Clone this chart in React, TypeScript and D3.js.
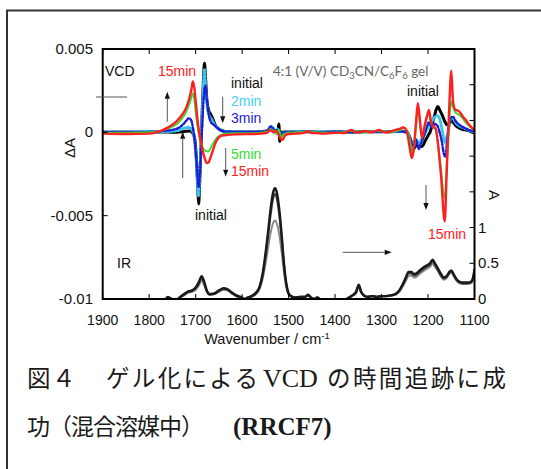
import React from 'react';
import * as d3 from 'd3';

type Pt = [number, number];

// wavenumber axis
const X_TICKS = [1900, 1800, 1700, 1600, 1500, 1400, 1300, 1200, 1100];

// left axis (ΔA, values in units of 1e-3)
const VCD_TICKS = [5, 0, -5, -10];
const VCD_TICK_LABELS = ['0.005', '0', '-0.005', '-0.01'];

// right axis (A)
const IR_TICKS = [0, 0.5, 1, 1.5, 2, 2.5, 3, 3.5];
const IR_TICK_LABELS = ['0', '0.5', '1', '', '', '', '', ''];

// VCD spectra, [wavenumber, ΔA x 1e3]
const vcdInitial: Pt[] = [
  [1900, 0], [1850, 0], [1800, 0.02], [1760, 0.02], [1740, 0], [1725, 0.05], [1712, 0.08],
  [1705, -0.1], [1701, -0.6], [1698, -1.8], [1695, -3.6], [1693.5, -4.3], [1692, -3.5],
  [1689, -1.2], [1686, 1.2], [1683, 3.3], [1681, 4.15], [1679, 3.4], [1676, 2.0], [1672, 1.3],
  [1668, 1.1], [1663, 0.8], [1658, 0.45], [1650, 0.2], [1644, 0.12], [1635, 0.05], [1620, 0.02],
  [1600, 0.02], [1580, 0.02], [1560, 0.05], [1545, 0.08], [1538, 0.25], [1533, 0.15],
  [1527, 0.05], [1523, 0.1], [1521, 0.5], [1519, -0.55], [1516, 0.0], [1505, 0.02], [1490, 0.02],
  [1460, 0.03], [1430, 0.0], [1400, 0.03], [1370, 0.0], [1340, 0.03], [1300, 0.03], [1270, 0.05],
  [1255, 0.05], [1245, 0.0], [1238, -0.4], [1231, -1.0], [1225, -0.75], [1218, -0.8],
  [1213, -0.85], [1206, -0.5], [1200, -0.2], [1195, 0.05], [1190, 0.6], [1186, 1.0], [1182, 1.4],
  [1179, 1.55], [1175, 1.35], [1169, 1.0], [1163, 0.6], [1159, 0.45], [1154, 0.55], [1150, 0.75],
  [1146, 0.6], [1138, 0.35], [1128, 0.2], [1116, 0.12], [1108, 0.05], [1100, -0.05],
];

const vcd2min: Pt[] = [
  [1900, 0.02], [1800, 0.03], [1760, 0.05], [1740, 0.1], [1725, 0.25], [1715, 0.3], [1708, 0.15],
  [1703, -0.3], [1699, -1.5], [1696, -3.0], [1694, -3.8], [1692, -3.2], [1689, -1.0], [1686, 1.0],
  [1683, 3.0], [1681, 3.75], [1679, 3.0], [1676, 1.8], [1672, 1.1], [1666, 0.8], [1660, 0.5],
  [1652, 0.25], [1645, 0.12], [1635, 0.05], [1600, 0.02], [1560, 0.03], [1545, 0.1], [1539, 0.35],
  [1534, 0.3], [1529, 0.05], [1524, 0.2], [1519, -0.2], [1510, 0.0], [1480, 0.03], [1440, 0.02],
  [1400, 0.04], [1360, 0.02], [1320, 0.04], [1280, 0.03], [1255, 0.05], [1245, 0.0],
  [1238, -0.45], [1232, -0.9], [1226, -0.4], [1220, -0.7], [1214, -0.4], [1207, -0.1], [1200, 0.3],
  [1193, 0.6], [1186, 0.9], [1180, 1.0], [1175, 0.8], [1170, 0.2], [1166, -0.4], [1163, -0.6],
  [1159, -0.2], [1155, 0.4], [1151, 0.8], [1147, 0.85], [1140, 0.55], [1130, 0.35], [1118, 0.2],
  [1108, 0.08], [1100, 0.0],
];

const vcd3min: Pt[] = [
  [1900, 0.02], [1800, 0.03], [1770, 0.08], [1750, 0.15], [1738, 0.25], [1728, 0.45], [1720, 0.7],
  [1715, 0.85], [1710, 0.75], [1706, 0.3], [1702, -0.5], [1698, -1.8], [1695, -3.0], [1693, -3.3],
  [1691, -2.5], [1688, -0.8], [1685, 1.0], [1682, 2.3], [1679, 2.8], [1676, 2.0], [1672, 1.1],
  [1667, 0.6], [1661, 0.45], [1655, 0.3], [1648, 0.15], [1638, 0.05], [1600, 0.02], [1560, 0.03],
  [1545, 0.12], [1539, 0.35], [1534, 0.25], [1529, 0.05], [1524, 0.15], [1519, -0.25], [1510, 0.0],
  [1470, 0.03], [1430, 0.02], [1390, 0.04], [1350, 0.02], [1310, 0.04], [1270, 0.04], [1255, 0.05],
  [1245, 0.0], [1238, -0.4], [1232, -0.8], [1226, -0.45], [1220, -1.0], [1215, -0.65],
  [1208, -0.15], [1203, 0.3], [1198, 0.6], [1192, 0.3], [1186, 0.5], [1180, 0.4], [1175, 0.0],
  [1170, -0.6], [1166, -1.3], [1163, -1.45], [1159, -0.6], [1155, 0.3], [1151, 0.85], [1147, 0.95],
  [1140, 0.65], [1130, 0.4], [1118, 0.22], [1108, 0.1], [1100, 0.05],
];

const vcd5min: Pt[] = [
  [1900, -0.02], [1850, -0.02], [1800, 0.0], [1780, 0.06], [1765, 0.18], [1752, 0.32], [1740, 0.5],
  [1730, 0.8], [1722, 1.15], [1715, 1.6], [1710, 2.0], [1706, 2.35], [1703, 2.0], [1699, 1.0],
  [1695, 0.2], [1690, -0.5], [1685, -0.9], [1680, -1.1], [1673, -1.15], [1667, -0.9], [1660, -0.55],
  [1653, -0.3], [1645, -0.15], [1635, -0.08], [1620, -0.05], [1600, -0.05], [1560, -0.02],
  [1545, 0.05], [1539, 0.2], [1533, 0.1], [1527, -0.1], [1521, 0.15], [1516, -0.3], [1510, -0.1],
  [1500, -0.02], [1460, 0.02], [1420, -0.02], [1380, 0.0], [1366, 0.1], [1340, 0.0], [1305, 0.1],
  [1280, 0.02], [1262, 0.12], [1252, 0.25], [1244, 0.05], [1238, -0.6], [1234, -1.3], [1230, -0.8],
  [1226, 0.4], [1222, 1.4], [1218, 0.7], [1213, -0.3], [1208, 0.2], [1202, 0.9], [1198, 1.2],
  [1194, 0.6], [1188, 0.3], [1184, 0.2], [1174, -1.8], [1164, -3.95], [1158, -1.0], [1153, 1.2],
  [1150, 1.85], [1146, 1.5], [1141, 1.2], [1130, 1.0], [1119, 0.6], [1108, 0.3], [1100, 0.1],
];

const vcd15min: Pt[] = [
  [1900, -0.08], [1850, -0.1], [1800, -0.08], [1785, 0.0], [1772, 0.12], [1760, 0.28], [1748, 0.5],
  [1738, 0.75], [1728, 1.1], [1720, 1.5], [1714, 2.0], [1709, 2.6], [1706, 3.05], [1703, 2.7],
  [1699, 1.6], [1695, 0.5], [1690, -0.4], [1685, -1.1], [1680, -1.6], [1676, -1.85], [1672, -1.8],
  [1668, -1.5], [1662, -1.0], [1656, -0.55], [1650, -0.3], [1643, -0.2], [1630, -0.15],
  [1610, -0.12], [1580, -0.1], [1560, -0.08], [1545, 0.0], [1539, 0.15], [1533, 0.0], [1528, 0.1],
  [1522, -0.1], [1517, -0.4], [1513, -0.45], [1508, -0.2], [1500, -0.1], [1485, -0.08],
  [1470, -0.05], [1458, 0.05], [1450, -0.05], [1440, -0.05], [1425, -0.08], [1410, -0.05],
  [1395, -0.02], [1380, -0.05], [1370, 0.1], [1364, 0.15], [1358, 0.0], [1345, 0.02], [1335, 0.08],
  [1325, 0.0], [1315, 0.05], [1305, 0.15], [1298, 0.05], [1290, 0.0], [1280, 0.05], [1270, 0.15],
  [1262, 0.2], [1253, 0.3], [1246, 0.1], [1240, -0.8], [1235, -1.55], [1231, -1.1], [1226, 0.5],
  [1222, 1.75], [1218, 0.9], [1213, -0.35], [1208, 0.3], [1202, 1.0], [1198, 1.35], [1194, 0.7],
  [1189, 0.35], [1184, 0.25], [1172, -2.6], [1164, -5.35], [1160, -2.5], [1155, 1.0], [1150, 3.7],
  [1146, 1.8], [1141, 1.35], [1135, 1.3], [1130, 1.15], [1124, 0.9], [1119, 0.75], [1113, 0.5],
  [1108, 0.35], [1100, 0.1],
];

// IR spectra, [wavenumber, A]
const irInitial: Pt[] = [
  [1768, -0.05], [1760, 0.03], [1752, 0.0], [1745, -0.04], [1735, 0.02], [1725, 0.07], [1715, 0.11],
  [1708, 0.12], [1700, 0.16], [1693, 0.24], [1687, 0.32], [1682, 0.25], [1676, 0.12], [1670, 0.07],
  [1660, 0.08], [1650, 0.12], [1640, 0.15], [1632, 0.14], [1622, 0.09], [1612, 0.05], [1603, 0.03],
  [1595, 0.0], [1588, 0.02], [1580, 0.04], [1570, 0.09], [1562, 0.18], [1556, 0.35], [1550, 0.62],
  [1544, 0.95], [1538, 1.3], [1533, 1.5], [1529, 1.55], [1525, 1.48], [1520, 1.25], [1515, 0.9],
  [1510, 0.5], [1505, 0.22], [1500, 0.08], [1495, 0.04], [1485, 0.02], [1475, 0.03], [1465, 0.03],
  [1458, 0.06], [1452, 0.02], [1445, 0.0], [1438, 0.02], [1430, -0.03], [1420, -0.08], [1400, -0.1],
  [1385, -0.06], [1375, 0.0], [1365, 0.04], [1355, 0.1], [1349, 0.2], [1344, 0.1], [1338, 0.05],
  [1330, 0.03], [1320, 0.04], [1310, 0.03], [1300, 0.04], [1290, 0.04], [1280, 0.05], [1270, 0.07],
  [1262, 0.12], [1255, 0.2], [1248, 0.3], [1242, 0.38], [1236, 0.38], [1230, 0.35], [1225, 0.36],
  [1218, 0.4], [1210, 0.44], [1203, 0.47], [1196, 0.5], [1190, 0.55], [1185, 0.5], [1178, 0.42],
  [1172, 0.35], [1166, 0.3], [1160, 0.32], [1154, 0.38], [1150, 0.4], [1145, 0.35], [1139, 0.28],
  [1132, 0.24], [1125, 0.23], [1115, 0.23], [1108, 0.24], [1103, 0.3], [1100, 0.42],
];

const ir3min: Pt[] = [
  [1768, -0.05], [1760, 0.02], [1752, 0.0], [1745, -0.04], [1735, 0.02], [1725, 0.06], [1715, 0.1],
  [1708, 0.11], [1700, 0.15], [1693, 0.22], [1687, 0.3], [1682, 0.23], [1676, 0.11], [1670, 0.06],
  [1660, 0.07], [1650, 0.11], [1640, 0.14], [1632, 0.13], [1622, 0.08], [1612, 0.04], [1603, 0.02],
  [1595, 0.0], [1588, 0.02], [1580, 0.04], [1570, 0.08], [1562, 0.17], [1556, 0.33], [1550, 0.58],
  [1544, 0.9], [1538, 1.22], [1533, 1.42], [1529, 1.47], [1525, 1.4], [1520, 1.18], [1515, 0.85],
  [1510, 0.47], [1505, 0.2], [1500, 0.07], [1495, 0.04], [1485, 0.02], [1475, 0.03], [1465, 0.03],
  [1458, 0.05], [1452, 0.02], [1445, 0.0], [1438, 0.02], [1430, -0.03], [1420, -0.08], [1400, -0.1],
  [1385, -0.06], [1375, 0.0], [1365, 0.04], [1355, 0.09], [1349, 0.19], [1344, 0.1], [1338, 0.05],
  [1330, 0.03], [1320, 0.04], [1310, 0.03], [1300, 0.04], [1290, 0.04], [1280, 0.05], [1270, 0.07],
  [1262, 0.11], [1255, 0.19], [1248, 0.28], [1242, 0.36], [1236, 0.36], [1230, 0.33], [1225, 0.34],
  [1218, 0.38], [1210, 0.42], [1203, 0.45], [1196, 0.48], [1190, 0.53], [1185, 0.48], [1178, 0.4],
  [1172, 0.33], [1166, 0.29], [1160, 0.31], [1154, 0.37], [1150, 0.39], [1145, 0.34], [1139, 0.27],
  [1132, 0.23], [1125, 0.22], [1115, 0.22], [1108, 0.23], [1103, 0.29], [1100, 0.41],
];

const ir15min: Pt[] = [
  [1768, -0.05], [1760, 0.02], [1752, 0.0], [1745, -0.04], [1735, 0.01], [1725, 0.05], [1715, 0.09],
  [1708, 0.1], [1700, 0.13], [1693, 0.19], [1687, 0.26], [1682, 0.2], [1676, 0.1], [1670, 0.06],
  [1660, 0.07], [1650, 0.1], [1640, 0.13], [1632, 0.12], [1622, 0.08], [1612, 0.04], [1603, 0.02],
  [1595, 0.0], [1588, 0.02], [1580, 0.03], [1570, 0.07], [1562, 0.15], [1556, 0.28], [1550, 0.48],
  [1544, 0.72], [1538, 0.95], [1533, 1.07], [1529, 1.1], [1525, 1.05], [1520, 0.9], [1515, 0.66],
  [1510, 0.38], [1505, 0.17], [1500, 0.07], [1495, 0.04], [1485, 0.02], [1475, 0.03], [1465, 0.03],
  [1458, 0.05], [1452, 0.02], [1445, 0.0], [1438, 0.02], [1430, -0.03], [1420, -0.08], [1400, -0.1],
  [1385, -0.06], [1375, 0.0], [1365, 0.04], [1355, 0.08], [1349, 0.17], [1344, 0.09], [1338, 0.05],
  [1330, 0.03], [1320, 0.04], [1310, 0.03], [1300, 0.04], [1290, 0.04], [1280, 0.05], [1270, 0.06],
  [1262, 0.1], [1255, 0.17], [1248, 0.25], [1242, 0.32], [1236, 0.33], [1230, 0.3], [1225, 0.31],
  [1218, 0.35], [1210, 0.39], [1203, 0.42], [1196, 0.45], [1190, 0.49], [1185, 0.45], [1178, 0.38],
  [1172, 0.31], [1166, 0.27], [1160, 0.29], [1154, 0.35], [1150, 0.37], [1145, 0.32], [1139, 0.26],
  [1132, 0.22], [1125, 0.21], [1115, 0.21], [1108, 0.22], [1103, 0.28], [1100, 0.39],
];

const PLOT = { left: 102.7, right: 474.5, top: 49, bottom: 299 };
const SANS = "'Liberation Sans', Arial, sans-serif";

const Arrow: React.FC<{ x1: number; y1: number; x2: number; y2: number; head?: boolean }> = ({ x1, y1, x2, y2, head = true }) => {
  const a = Math.atan2(y2 - y1, x2 - x1);
  const L = 7, W = 2.6;
  const bx = x2 - L * Math.cos(a), by = y2 - L * Math.sin(a);
  const px = -Math.sin(a) * W, py = Math.cos(a) * W;
  return (
    <g>
      <line x1={x1} y1={y1} x2={head ? bx : x2} y2={head ? by : y2} stroke="#555" strokeWidth={1} />
      {head && <path d={`M${x2},${y2}L${bx + px},${by + py}L${bx - px},${by - py}Z`} fill="#111" />}
    </g>
  );
};

const App: React.FC = () => {
  const x = d3.scaleLinear().domain([1900, 1100]).range([PLOT.left, PLOT.right]);
  const yL = d3.scaleLinear().domain([-10, 5]).range([PLOT.bottom, PLOT.top]);
  const yR = d3.scaleLinear().domain([0, 3.5]).range([PLOT.bottom, PLOT.top]);

  const vcdLine = d3.line<Pt>().x(d => x(d[0])).y(d => yL(d[1])).curve(d3.curveMonotoneX);
  const irLine = d3.line<Pt>().x(d => x(d[0])).y(d => yR(d[1])).curve(d3.curveMonotoneX);

  const irSeries = [
    { data: ir15min, color: '#8a8a8a', w: 2 },
    { data: ir3min, color: '#444', w: 2.2 },
    { data: irInitial, color: '#1a1a1a', w: 2.4 },
  ];

  const vcdSeries = [
    { data: vcdInitial, color: '#000', w: 3, dash: undefined as string | undefined },
    { data: vcd2min, color: '#38c4f2', w: 3, dash: '1.2 2.2' },
    { data: vcd3min, color: '#1c1cd6', w: 2.4, dash: '4 2 1.2 2' },
    { data: vcd5min, color: '#35de35', w: 2, dash: undefined },
    { data: vcd15min, color: '#ff1f1f', w: 2.4, dash: undefined },
  ];

  return (
    <div style={{ position: 'absolute', left: 0, top: 0 }}>
      <svg width={541} height={469} viewBox="0 0 541 469" style={{ display: 'block', background: '#fff' }}>
        <defs>
          <clipPath id="plotClip">
            <rect x={PLOT.left} y={PLOT.top} width={PLOT.right - PLOT.left} height={PLOT.bottom - PLOT.top} />
          </clipPath>
        </defs>

        {/* outer frame */}
        <rect x={7} y={10.5} width={600} height={500} fill="none" stroke="#333" strokeWidth={2} />

        {/* spectra */}
        <g clipPath="url(#plotClip)">
          {irSeries.map((s, i) => (
            <path key={i} d={irLine(s.data) || undefined} fill="none" stroke={s.color} strokeWidth={s.w} strokeLinejoin="round" />
          ))}
          {vcdSeries.map((s, i) => (
            <path key={i} d={vcdLine(s.data) || undefined} fill="none" stroke={s.color} strokeWidth={s.w}
              strokeDasharray={s.dash} strokeLinecap={s.dash ? 'round' : 'butt'} strokeLinejoin="round" />
          ))}
        </g>

        {/* plot frame */}
        <rect x={PLOT.left} y={PLOT.top} width={PLOT.right - PLOT.left} height={PLOT.bottom - PLOT.top}
          fill="none" stroke="#000" strokeWidth={2} />

        {/* x ticks (in, top and bottom) */}
        {X_TICKS.map(t => (
          <g key={t}>
            <line x1={x(t)} x2={x(t)} y1={PLOT.bottom} y2={PLOT.bottom - 5} stroke="#000" strokeWidth={1} />
            <line x1={x(t)} x2={x(t)} y1={PLOT.top} y2={PLOT.top + 5} stroke="#000" strokeWidth={1} />
            <text x={x(t)} y={325} textAnchor="middle" fontFamily={SANS} fontSize={14} fill="#111">{t}</text>
          </g>
        ))}
        <text x={267} y={344} textAnchor="middle" fontFamily={SANS} fontSize={14.5} fill="#111">
          Wavenumber / cm<tspan dy={-5} fontSize={9.5}>-1</tspan>
        </text>

        {/* left axis */}
        {VCD_TICKS.map((t, i) => (
          <g key={t}>
            <line x1={PLOT.left} x2={PLOT.left + 5} y1={yL(t)} y2={yL(t)} stroke="#000" strokeWidth={1} />
            <text x={93} y={yL(t) + 5} textAnchor="end" fontFamily={SANS} fontSize={15} fill="#111">{VCD_TICK_LABELS[i]}</text>
          </g>
        ))}
        <text transform="translate(75,148) rotate(-90)" textAnchor="middle" fontFamily={SANS} fontSize={15} fill="#111">ΔA</text>

        {/* right axis */}
        {IR_TICKS.map((t, i) => (
          <g key={t}>
            <line x1={PLOT.right} x2={PLOT.right - 5} y1={yR(t)} y2={yR(t)} stroke="#000" strokeWidth={1} />
            {IR_TICK_LABELS[i] && (
              <text x={478} y={yR(t) + 5} textAnchor="start" fontFamily={SANS} fontSize={15} fill="#111">{IR_TICK_LABELS[i]}</text>
            )}
          </g>
        ))}
        <text transform="translate(489,195) rotate(90)" textAnchor="middle" fontFamily={SANS} fontSize={15} fill="#111">A</text>

        {/* annotations */}
        <g fontFamily={SANS} fontSize={14}>
          <text x={105} y={75.5} fill="#111">VCD</text>
          <text x={158} y={75.5} fill="#ff2020">15min</text>
          <text x={231} y={88} fill="#111">initial</text>
          <text x={231} y={106} fill="#44d0f8">2min</text>
          <text x={231} y={123} fill="#2222d8">3min</text>
          <text x={231} y={159} fill="#33dd33">5min</text>
          <text x={231} y={176} fill="#ff2020">15min</text>
          <text x={195} y={220} fill="#111">initial</text>
          <text x={407} y={96} fill="#111">initial</text>
          <text x={428} y={239} fill="#ff2020">15min</text>
          <text x={117} y={268} fill="#111">IR</text>
        </g>
        <text x={273} y={76} fontFamily="Lato, 'Liberation Sans', sans-serif" fontSize={13.5} fill="#666">
          4:1 (V/V) CD<tspan dy={3} fontSize={9.5}>3</tspan><tspan dy={-3}>CN/C</tspan><tspan dy={3} fontSize={9.5}>6</tspan><tspan dy={-3}>F</tspan><tspan dy={3} fontSize={9.5}>6</tspan><tspan dy={-3}> gel</tspan>
        </text>

        {/* arrows */}
        <Arrow x1={127} y1={97} x2={96} y2={97} head={false} />
        <Arrow x1={167.3} y1={121.7} x2={167.3} y2={91.7} />
        <Arrow x1={182.7} y1={178} x2={182.7} y2={131.7} />
        <Arrow x1={222.7} y1={96.7} x2={222.7} y2={123.3} />
        <Arrow x1={225.7} y1={148} x2={225.7} y2={176.7} />
        <Arrow x1={426} y1={185} x2={426} y2={210} />
        <Arrow x1={342.7} y1={252.3} x2={391.7} y2={252.3} />

        {/* caption */}
        <g fontFamily="'Liberation Serif', 'Noto Sans CJK JP', serif" fill="#1a1a1a">
          <text y={387} fontSize={23.5}>
            <tspan x={27}>図</tspan>
            <tspan x={52}>４</tspan>
            <tspan x={106} textLength={152} lengthAdjust="spacing">ゲル化による</tspan>
            <tspan x={263} fontSize={26}>VCD</tspan>
            <tspan x={327} textLength={179} lengthAdjust="spacing">の時間追跡に成</tspan>
          </text>
          <text y={435} fontSize={23}>
            <tspan x={27} letterSpacing={-1}>功（混合溶媒中）</tspan>
            <tspan x={233} fontSize={25} fontWeight="bold">(RRCF7)</tspan>
          </text>
        </g>
      </svg>
    </div>
  );
};

export default App;
